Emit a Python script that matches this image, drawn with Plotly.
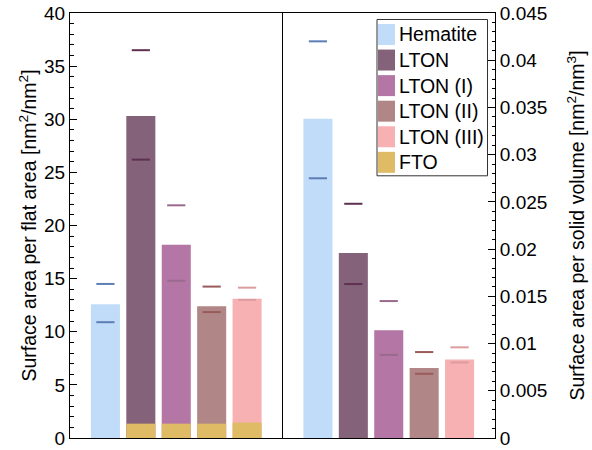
import plotly.graph_objects as go

# ---------------- data ----------------
categories = ["Hematite", "LTON", "LTON (I)", "LTON (II)", "LTON (III)"]
legend_names = categories + ["FTO"]

# left panel: surface area per flat area [nm2/nm2]
flat_area = [12.6, 30.3, 18.2, 12.4, 13.1]
flat_upper = [14.5, 36.5, 21.9, 14.25, 14.15]
flat_lower = [10.9, 26.2, 14.8, 11.85, 13.0]
fto_flat = [1.35, 1.35, 1.35, 1.45]          # FTO share under the LTON bars

# right panel: surface area per solid volume [nm2/nm3]
solid_vol = [0.0338, 0.0196, 0.0114, 0.0074, 0.0083]
vol_upper = [0.0420, 0.0248, 0.0145, 0.0091, 0.0096]
vol_lower = [0.0275, 0.0163, 0.0088, 0.0068, 0.0080]

left_pos = [0, 1, 2, 3, 4]
right_pos = [6, 7, 8, 9, 10]

# ---------------- style ----------------
bar_colors = ["#c0dcf8", "#846279", "#b476a5", "#b08786", "#f8b1b2"]
fto_color = "#dfbb66"
err_colors = ["#5d7db5", "#5e3052", "#9a6a8e", "#9a5a5a", "#dc9c9e"]
legend_colors = bar_colors + [fto_color]

FONT = "Liberation Sans, Arial, sans-serif"
W, H = 592, 450
L, R, T, B = 70, 97, 13, 11.5
PW, PH = W - L - R, H - T - B
BW = 0.82

fig = go.Figure()

# left bars
fig.add_trace(go.Bar(x=left_pos, y=flat_area, width=BW, marker=dict(color=bar_colors, line_width=0),
                     yaxis="y", showlegend=False))
fig.add_trace(go.Bar(x=left_pos[1:], y=fto_flat, width=BW, marker=dict(color=fto_color, line_width=0),
                     yaxis="y", showlegend=False))
# right bars
fig.add_trace(go.Bar(x=right_pos, y=solid_vol, width=BW, marker=dict(color=bar_colors, line_width=0),
                     yaxis="y2", showlegend=False))

# error limit markers
for xs, ys, ax in [(left_pos, flat_upper, "y"), (left_pos, flat_lower, "y"),
                   (right_pos, vol_upper, "y2"), (right_pos, vol_lower, "y2")]:
    fig.add_trace(go.Scatter(x=xs, y=ys, mode="markers", yaxis=ax, showlegend=False,
                             marker=dict(symbol="line-ew", size=13,
                                         line=dict(width=2, color=err_colors))))

# divider between the panels
fig.add_shape(type="line", xref="x", yref="paper", x0=5, x1=5, y0=0, y1=1,
              line=dict(color="black", width=1))

# manual legend (pixel layout converted to paper coordinates)
def px_x(p):
    return (p - L) / PW

def px_y(p):
    return (H - B - p) / PH

lx0, lx1, ly0, ly1 = 377, 487.5, 19.5, 176
fig.add_shape(type="rect", xref="paper", yref="paper",
              x0=px_x(lx0), x1=px_x(lx1), y0=px_y(ly1), y1=px_y(ly0),
              line=dict(color="#333333", width=1), fillcolor="white", layer="above")
for i, (name, col) in enumerate(zip(legend_names, legend_colors)):
    cy = 34.5 + i * 25.6
    fig.add_shape(type="rect", xref="paper", yref="paper",
                  x0=px_x(378), x1=px_x(395), y0=px_y(cy + 10.5), y1=px_y(cy - 10.5),
                  line_width=0, fillcolor=col, layer="above")
    fig.add_annotation(xref="paper", yref="paper", x=px_x(397), y=px_y(cy),
                       text=name, showarrow=False, xanchor="left", yanchor="middle",
                       font=dict(family=FONT, size=19.5, color="black"))

axis_common = dict(showgrid=False, zeroline=False, showline=True, linecolor="black",
                   linewidth=1, ticks="inside", ticklen=7, tickcolor="black",
                   tickfont=dict(family=FONT, size=19, color="black"))

fig.update_layout(
    width=W, height=H,
    margin=dict(l=L, r=R, t=T, b=B, autoexpand=False),
    paper_bgcolor="white", plot_bgcolor="white",
    barmode="overlay",
    showlegend=False,
    font=dict(family=FONT, size=19, color="black"),
    xaxis=dict(range=[-1, 11], showgrid=False, zeroline=False, showticklabels=False,
               ticks="", showline=True, mirror=True, linecolor="black", linewidth=1),
    yaxis=dict(range=[0, 40], dtick=5, side="left",
               minor=dict(dtick=1, ticks="inside", ticklen=4, tickcolor="black"),
               title=dict(text="Surface area per flat area [nm<sup>2</sup>/nm<sup>2</sup>]",
                          font=dict(family=FONT, size=19.5), standoff=2),
               **axis_common),
    yaxis2=dict(range=[0, 0.045], dtick=0.005, side="right", overlaying="y",
                minor=dict(dtick=0.001, ticks="inside", ticklen=3, tickcolor="black"),
                title=dict(text="Surface area per solid volume [nm<sup>2</sup>/nm<sup>3</sup>]",
                           font=dict(family=FONT, size=19.5), standoff=24),
                **axis_common),
)

fig.write_html("out.html")
